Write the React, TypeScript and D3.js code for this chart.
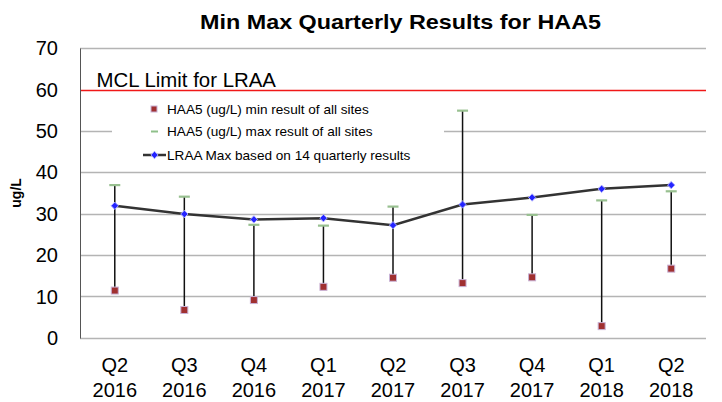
import * as d3 from 'd3'

const quarters = ['Q2', 'Q3', 'Q4', 'Q1', 'Q2', 'Q3', 'Q4', 'Q1', 'Q2']
const years = ['2016', '2016', '2016', '2017', '2017', '2017', '2017', '2018', '2018']
const minResult = [11.4, 6.7, 9.1, 12.3, 14.5, 13.2, 14.6, 2.8, 16.7]
const maxResult = [36.9, 34.1, 27.3, 27.1, 31.7, 54.9, 29.7, 33.2, 35.4]
const lraaMax = [31.9, 29.9, 28.6, 28.9, 27.2, 32.2, 33.9, 36.0, 36.9]
const yTicks = [0, 10, 20, 30, 40, 50, 60, 70]
const mclLimit = 60

const W = 722, H = 402
const M = { left: 80, right: 16, top: 48.2, bottom: 64.3 }
const FONT = 'Liberation Sans, Arial, sans-serif'

export default function App() {
  const idx = quarters.map((_, i) => i)
  const x = d3.scaleBand<number>().domain(idx).range([M.left, W - M.right])
  const cx = (i: number) => x(i)! + x.bandwidth() / 2
  const y = d3.scaleLinear().domain([0, 70]).range([H - M.bottom, M.top])
  const gy = (t: number) => Math.round(y(t)) + 0.5

  const line = d3.line<number>().x((_, i) => cx(i)).y(d => y(d))
  const diamond = d3.symbol().type(d3.symbolDiamond2).size(34)()

  return (
    <svg width={W} height={H} style={{ position: 'absolute', left: 0, top: 0 }} fontFamily={FONT}>
      <text x={400.5} y={29} textAnchor="middle" fontSize={20.5} fontWeight="bold"
        textLength={401} lengthAdjust="spacingAndGlyphs">Min Max Quarterly Results for HAA5</text>

      {/* grid */}
      {yTicks.map(t => (
        <line key={t} x1={M.left} x2={W - M.right} y1={gy(t)} y2={gy(t)}
          stroke={t === mclLimit ? '#f01818' : '#b4b4b4'} strokeWidth={t === mclLimit ? 1.4 : 1.3} />
      ))}
      <line x1={M.left + 0.5} x2={M.left + 0.5} y1={gy(70)} y2={gy(0)} stroke="#555" strokeWidth={1} />

      {yTicks.map(t => (
        <text key={t} x={58} y={y(t)} dy="0.36em" textAnchor="end" fontSize={20}>{t}</text>
      ))}
      <text transform={`translate(21,${(y(0) + y(70)) / 2}) rotate(-90)`} textAnchor="middle"
        fontSize={14} fontWeight="bold">ug/L</text>

      <text x={96.5} y={86.5} fontSize={20.4}>MCL Limit for LRAA</text>

      {/* legend box */}
      <rect x={112} y={96} width={332} height={70} fill="#fff" />
      <g fontSize={13.6}>
        <rect x={151} y={106} width={6} height={6} fill="#a03030" stroke="#c9b3d6" strokeWidth={1} />
        <text x={167} y={109} dy="0.36em">HAA5 (ug/L) min result of all sites</text>
        <line x1={151} x2={158} y1={131.5} y2={131.5} stroke="#8fc08a" strokeWidth={2} />
        <text x={167} y={131.5} dy="0.36em">HAA5 (ug/L) max result of all sites</text>
        <line x1={143} x2={166} y1={155} y2={155} stroke="#333" strokeWidth={2.5} />
        <path d={diamond!} transform="translate(154.5,155)" fill="#2424ff" stroke="#a8a8ff" strokeWidth={1} />
        <text x={167} y={155} dy="0.36em">LRAA Max based on 14 quarterly results</text>
      </g>

      {/* min-max bars */}
      {idx.map(i => (
        <line key={'v' + i} x1={cx(i)} x2={cx(i)} y1={y(maxResult[i])} y2={y(minResult[i])}
          stroke="#111" strokeWidth={1.5} />
      ))}
      {idx.map(i => (
        <line key={'mx' + i} x1={cx(i) - 5.5} x2={cx(i) + 5.5} y1={y(maxResult[i])} y2={y(maxResult[i])}
          stroke="#98c090" strokeWidth={2.2} />
      ))}
      {idx.map(i => (
        <rect key={'mn' + i} x={cx(i) - 3.5} y={y(minResult[i]) - 3.5} width={7} height={7}
          fill="#a03030" stroke="#c9b3d6" strokeWidth={1} />
      ))}

      <path d={line(lraaMax)!} fill="none" stroke="#333" strokeWidth={2.5} />
      {idx.map(i => (
        <path key={'d' + i} d={diamond!} transform={`translate(${cx(i)},${y(lraaMax[i])})`}
          fill="#2424ff" stroke="#a8a8ff" strokeWidth={1} />
      ))}

      {/* x labels */}
      {idx.map(i => (
        <text key={'x' + i} x={cx(i)} textAnchor="middle" fontSize={20}>
          <tspan x={cx(i)} y={371.5}>{quarters[i]}</tspan>
          <tspan x={cx(i)} y={396.5}>{years[i]}</tspan>
        </text>
      ))}
    </svg>
  )
}
